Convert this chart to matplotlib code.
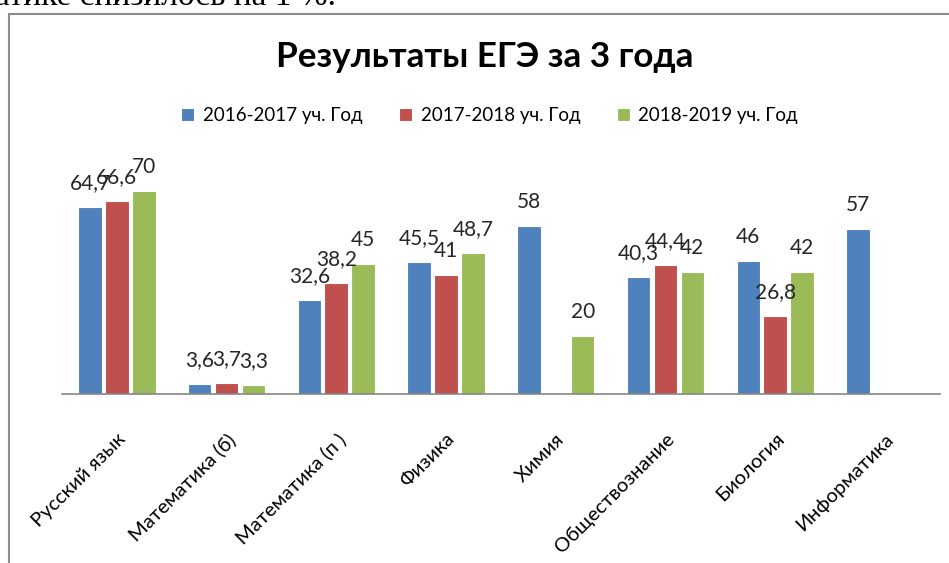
import numpy as np
import matplotlib
matplotlib.use("Agg")
from matplotlib import pyplot as plt
from matplotlib.patches import Rectangle

plt.rcParams['font.family'] = ['Lato', 'DejaVu Sans']

subjects = ["Русский язык", "Математика (б)", "Математика (п )", "Физика",
            "Химия", "Обществознание", "Биология", "Информатика"]
years = ["2016-2017 уч. Год", "2017-2018 уч. Год", "2018-2019 уч. Год"]
y2017 = [64.7, 3.6, 32.6, 45.5, 58, 40.3, 46, 57]
y2018 = [66.6, 3.7, 38.2, 41, np.nan, 44.4, 26.8, np.nan]
y2019 = [70, 3.3, 45, 48.7, 20, 42, 42, np.nan]
colors = ["#4F81BD", "#C0504D", "#9BBB59"]

fig = plt.figure(figsize=(9.49, 5.63), dpi=100)
ax = fig.add_axes([0.0653, 0.300, 0.925, 0.412])

x = np.arange(len(subjects))
w = 0.215
step = 0.245
for i, (vals, c, lab) in enumerate(zip([y2017, y2018, y2019], colors, years)):
    vals = np.array(vals, dtype=float)
    bars = ax.bar(x + (i - 1) * step, vals, w, color=c, edgecolor="white",
                  linewidth=0.8, label=lab)
    for b, v in zip(bars, vals):
        if np.isnan(v):
            continue
        txt = ("%g" % v).replace(".", ",")
        ax.annotate(txt, (b.get_x() + b.get_width() / 2, v), xytext=(0, 10),
                    textcoords="offset points", ha="center", va="bottom",
                    fontsize=15, color="#262626")

ax.set_xlim(-0.5, len(subjects) - 0.5)
ax.set_ylim(0, 80)
ax.set_yticks([])
for s in ["top", "left", "right"]:
    ax.spines[s].set_visible(False)
ax.spines["bottom"].set_color("#868686")
ax.spines["bottom"].set_linewidth(1.2)
ax.set_xticks(x)
ax.set_xticklabels(subjects, rotation=45, ha="right", rotation_mode="anchor",
                   fontsize=14.5, color="black")
ax.tick_params(axis="x", length=0, pad=26)

fig.text(0.511, 0.899, "Результаты ЕГЭ за 3 года", ha="center", va="center",
         fontsize=25.2, fontweight="bold")
fig.legend(loc="center", bbox_to_anchor=(0.516, 0.794), ncol=3, frameon=False,
           fontsize=13.5, handlelength=0.7, handleheight=0.7, handletextpad=0.45,
           columnspacing=1.95)

# chart frame
fig.patches.append(Rectangle((9 / 949, -0.1), 1.2, 1 - 14 / 563 + 0.1,
                             transform=fig.transFigure, fill=False,
                             edgecolor="#8c8c8c", linewidth=1.5))
# surrounding document text, cut at top
fig.text(-0.005, 1 - 5 / 563, "атике снизилось на 1 %.", ha="left",
         va="baseline", fontsize=24, family="Liberation Serif")

fig.savefig("out.png", dpi=100)
